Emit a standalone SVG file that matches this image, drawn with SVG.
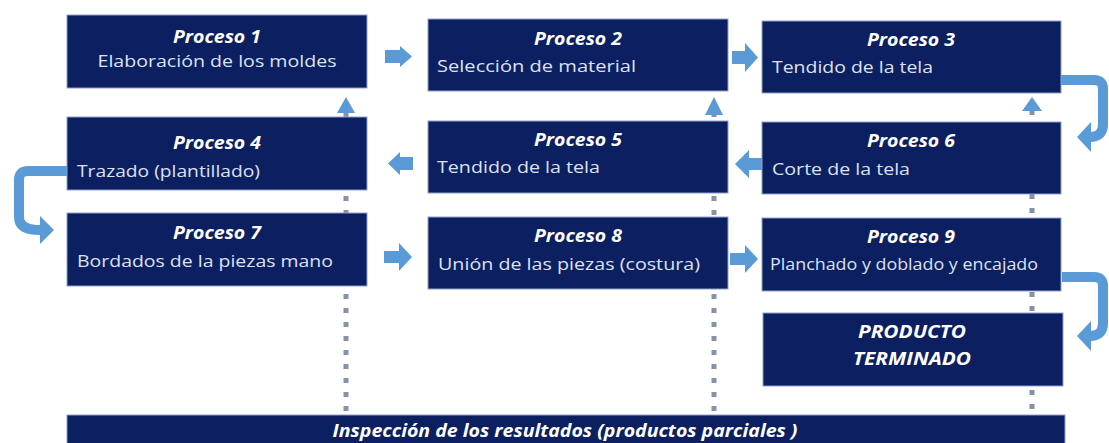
<svg xmlns="http://www.w3.org/2000/svg" width="1109" height="443" viewBox="0 0 1109 443">
<style>
.box{fill:#0b1f61;stroke:#8fa0cc;stroke-width:1}
.t{font-family:"Open Sans","Liberation Sans",sans-serif;font-size:17px;font-weight:bold;font-style:italic;fill:#ffffff}
.s{font-family:"Open Sans","Liberation Sans",sans-serif;font-size:17px;fill:#dde2f2}
.dot{stroke:#8593aa;stroke-width:5;stroke-dasharray:5 9;fill:none}
.ba{fill:#5a9ad6}
.cv{fill:none;stroke:#5a9ad6;stroke-width:10}
.up{fill:#5a9ad6}
</style>
<rect width="1109" height="443" fill="#ffffff"/>
<g id="connectors">
<line class="dot" x1="346" y1="112" x2="346" y2="416"/>
<line class="dot" x1="714" y1="112" x2="714" y2="416"/>
<line class="dot" x1="1032" y1="110" x2="1032" y2="416"/>
<polygon class="up" points="346,97 337,113 355,113"/>
<polygon class="up" points="714,97 705,115 723,115"/>
<polygon class="up" points="1032,97 1022,111 1042,111"/>
<path class="ba" d="M385,50 H400 V46 L412,56.5 L400,67 V63 H385 Z"/>
<path class="ba" d="M732,51 H745 V43 L758,57.5 L745,72 V64 H732 Z"/>
<path class="ba" d="M384,251 H399 V243 L412,257 L399,271 V263 H384 Z"/>
<path class="ba" d="M730,253 H745 V245 L758,259 L745,273 V265 H730 Z"/>
<path class="ba" d="M413,157 H400 V152 L388,163.5 L400,175 V170 H413 Z"/>
<path class="ba" d="M763,158 H749 V150 L735,164 L749,178 V170 H763 Z"/>
<path class="cv" d="M1061,80 H1094 Q1103,80 1103,89 V124 Q1103,137 1090,137"/>
<polygon class="ba" points="1077,137 1091,122 1091,152"/>
<path class="cv" d="M1062,277 H1094 Q1103,277 1103,286 V323 Q1103,336 1090,336"/>
<polygon class="ba" points="1077,336 1091,321 1091,351"/>
<path class="cv" d="M67,171 H28 Q19,171 19,180 V217 Q19,230 40,230"/>
<polygon class="ba" points="54,230 40,216 40,244"/>
</g>
<g id="p1"><rect class="box" x="67" y="15" width="300" height="73"/>
<text class="t" x="217" y="43" text-anchor="middle" textLength="88" lengthAdjust="spacingAndGlyphs">Proceso 1</text>
<text class="s" x="217" y="67" text-anchor="middle" textLength="239" lengthAdjust="spacingAndGlyphs">Elaboración de los moldes</text></g>
<g id="p2"><rect class="box" x="428" y="19" width="300" height="72"/>
<text class="t" x="578" y="45" text-anchor="middle" textLength="88" lengthAdjust="spacingAndGlyphs">Proceso 2</text>
<text class="s" x="437" y="72" textLength="199" lengthAdjust="spacingAndGlyphs">Selección de material</text></g>
<g id="p3"><rect class="box" x="762" y="21" width="299" height="72"/>
<text class="t" x="911" y="46" text-anchor="middle" textLength="88" lengthAdjust="spacingAndGlyphs">Proceso 3</text>
<text class="s" x="772" y="73" textLength="161" lengthAdjust="spacingAndGlyphs">Tendido de la tela</text></g>
<g id="p4"><rect class="box" x="67" y="117" width="300" height="73"/>
<text class="t" x="217" y="149" text-anchor="middle" textLength="88" lengthAdjust="spacingAndGlyphs">Proceso 4</text>
<text class="s" x="77" y="177" textLength="183" lengthAdjust="spacingAndGlyphs">Trazado (plantillado)</text></g>
<g id="p5"><rect class="box" x="428" y="121" width="300" height="72"/>
<text class="t" x="578" y="146" text-anchor="middle" textLength="88" lengthAdjust="spacingAndGlyphs">Proceso 5</text>
<text class="s" x="437" y="173" textLength="163" lengthAdjust="spacingAndGlyphs">Tendido de la tela</text></g>
<g id="p6"><rect class="box" x="762" y="122" width="299" height="72"/>
<text class="t" x="911" y="147" text-anchor="middle" textLength="88" lengthAdjust="spacingAndGlyphs">Proceso 6</text>
<text class="s" x="772" y="175" textLength="138" lengthAdjust="spacingAndGlyphs">Corte de la tela</text></g>
<g id="p7"><rect class="box" x="67" y="213" width="300" height="73"/>
<text class="t" x="217" y="239" text-anchor="middle" textLength="88" lengthAdjust="spacingAndGlyphs">Proceso 7</text>
<text class="s" x="77" y="267" textLength="256" lengthAdjust="spacingAndGlyphs">Bordados de la piezas mano</text></g>
<g id="p8"><rect class="box" x="428" y="217" width="300" height="72"/>
<text class="t" x="578" y="242" text-anchor="middle" textLength="88" lengthAdjust="spacingAndGlyphs">Proceso 8</text>
<text class="s" x="438" y="270" textLength="262" lengthAdjust="spacingAndGlyphs">Unión de las piezas (costura)</text></g>
<g id="p9"><rect class="box" x="762" y="218" width="299" height="73"/>
<text class="t" x="911" y="243" text-anchor="middle" textLength="88" lengthAdjust="spacingAndGlyphs">Proceso 9</text>
<text class="s" x="770" y="270" textLength="268" lengthAdjust="spacingAndGlyphs">Planchado y doblado y encajado</text></g>
<g id="producto"><rect class="box" x="763" y="313" width="300" height="73"/>
<text class="t" x="912" y="338" text-anchor="middle" textLength="108" lengthAdjust="spacingAndGlyphs">PRODUCTO</text>
<text class="t" x="912" y="365" text-anchor="middle" textLength="118" lengthAdjust="spacingAndGlyphs">TERMINADO</text></g>
<g id="inspeccion"><rect class="box" x="67" y="415" width="998" height="40"/>
<text class="t" x="565" y="437" text-anchor="middle" textLength="465" lengthAdjust="spacingAndGlyphs">Inspección de los resultados (productos parciales )</text></g>
</svg>
